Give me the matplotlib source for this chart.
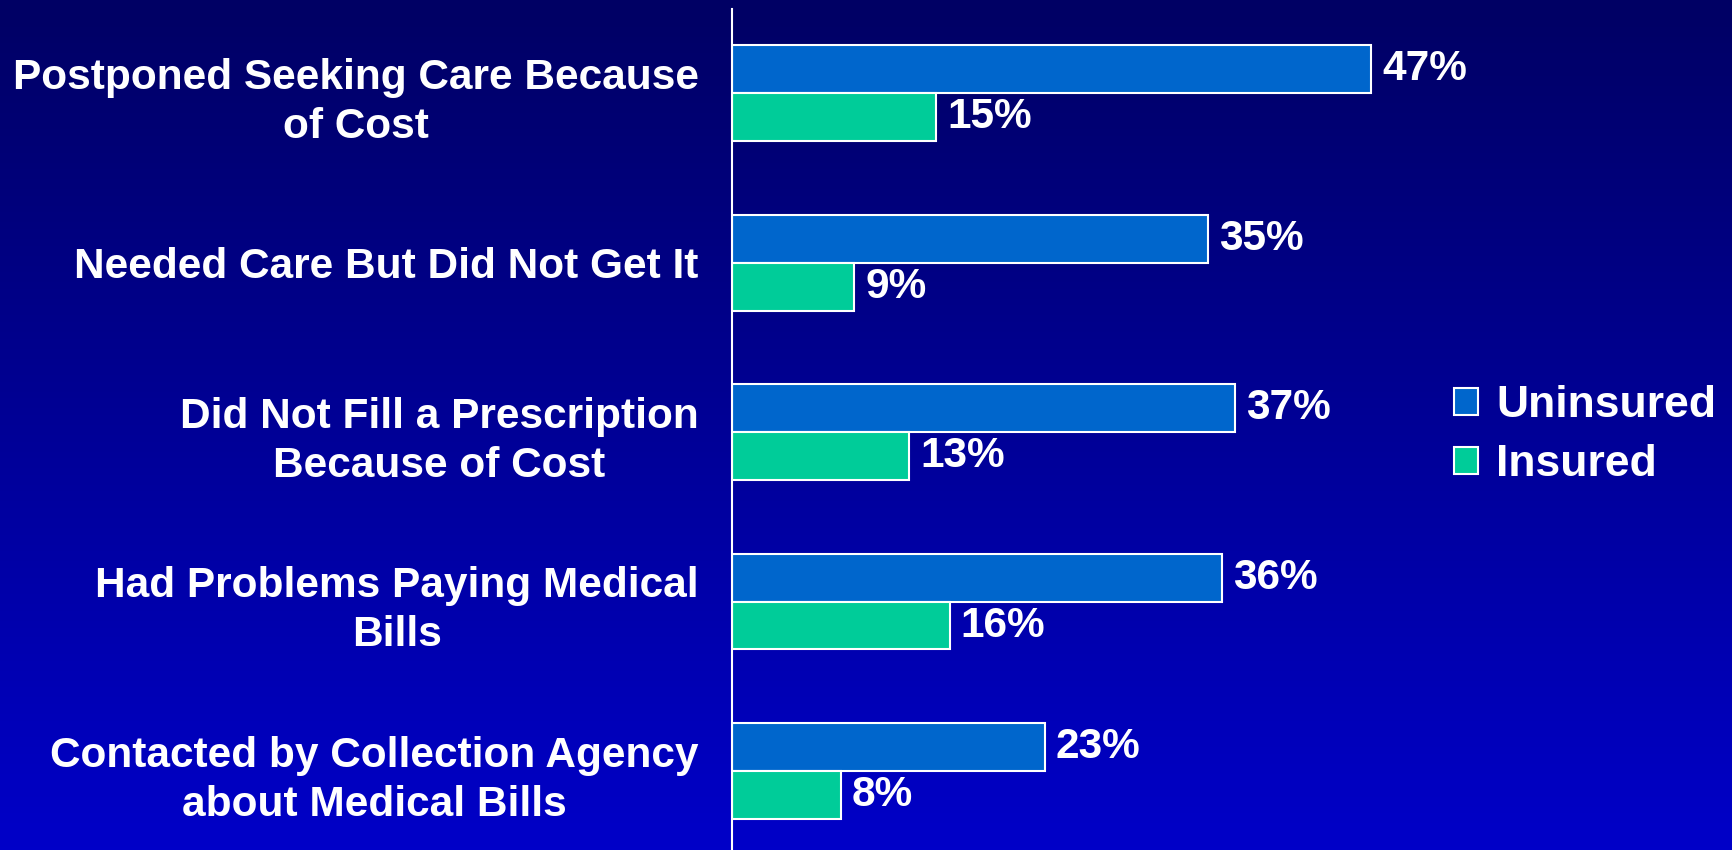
import numpy as np
import matplotlib
matplotlib.use("Agg")
from matplotlib import pyplot as plt
from matplotlib.patches import Patch

plt.rcParams['font.family'] = ['Liberation Sans', 'DejaVu Sans']
plt.rcParams['font.weight'] = 'bold'

categories = [
    "Postponed Seeking Care Because\nof Cost",
    "Needed Care But Did Not Get It",
    "Did Not Fill a Prescription\nBecause of Cost",
    "Had Problems Paying Medical\nBills",
    "Contacted by Collection Agency\nabout Medical Bills",
]
uninsured = [47, 35, 37, 36, 23]
insured = [15, 9, 13, 16, 8]
series_names = ["Uninsured", "Insured"]
series_colors = ["#0066CC", "#00CC99"]

fig = plt.figure(figsize=(17.32, 8.5), dpi=100)

# gradient backdrop, dark navy at the top to bright blue at the bottom
bg = fig.add_axes([0, 0, 1, 1], zorder=0)
grad = np.linspace(0, 1, 256).reshape(-1, 1)
top = np.array([0, 0, 100]) / 255
bot = np.array([0, 0, 200]) / 255
img = top + grad[..., None] * (bot - top)
bg.imshow(img, aspect='auto', extent=[0, 1, 0, 1])
bg.axis('off')

px_left = 732 / 1732
px_w = 50 * 13.6 / 1732
ax = fig.add_axes([px_left, 0, px_w, 1 - 9 / 850], zorder=1)
ax.patch.set_alpha(0)

y = np.arange(len(categories))
h = 0.283
b1 = ax.barh(y - h / 2, uninsured, height=h, color=series_colors[0],
             edgecolor='white', linewidth=1.5)
b2 = ax.barh(y + h / 2, insured, height=h, color=series_colors[1],
             edgecolor='white', linewidth=1.5)

for bars, vals in ((b1, uninsured), (b2, insured)):
    for bar, v in zip(bars, vals):
        ax.annotate(f"{v}%", (v, bar.get_y() + bar.get_height() / 2),
                    xytext=(8, 0), textcoords='offset points',
                    ha='left', va='center', color='white',
                    fontsize=30.5, fontweight='bold')

ax.set_xlim(0, 50)
ax.set_ylim(4.466, -0.496)
ax.set_yticks(y)
ax.set_yticklabels(categories, fontsize=30.5, fontweight='bold', color='white',
                   linespacing=1.3)
for lab in ax.get_yticklabels():
    lab.set_multialignment('center')
ax.tick_params(axis='y', length=0, pad=24)
ax.set_xticks([])
for side in ('top', 'right', 'bottom'):
    ax.spines[side].set_visible(False)
ax.spines['left'].set_color('white')
ax.spines['left'].set_linewidth(1.5)

handles = [Patch(facecolor=c, edgecolor='white', linewidth=1.5)
           for c in series_colors]
leg = fig.legend(handles, series_names, loc='center left',
                 bbox_to_anchor=(1454 / 1732, 1 - 435 / 850),
                 frameon=False, fontsize=32, handlelength=0.55,
                 handleheight=0.55, handletextpad=0.4, labelspacing=0.4,
                 borderpad=0, borderaxespad=0)
for t in leg.get_texts():
    t.set_color('white')
    t.set_fontweight('bold')

fig.savefig("out.png", dpi=100)
